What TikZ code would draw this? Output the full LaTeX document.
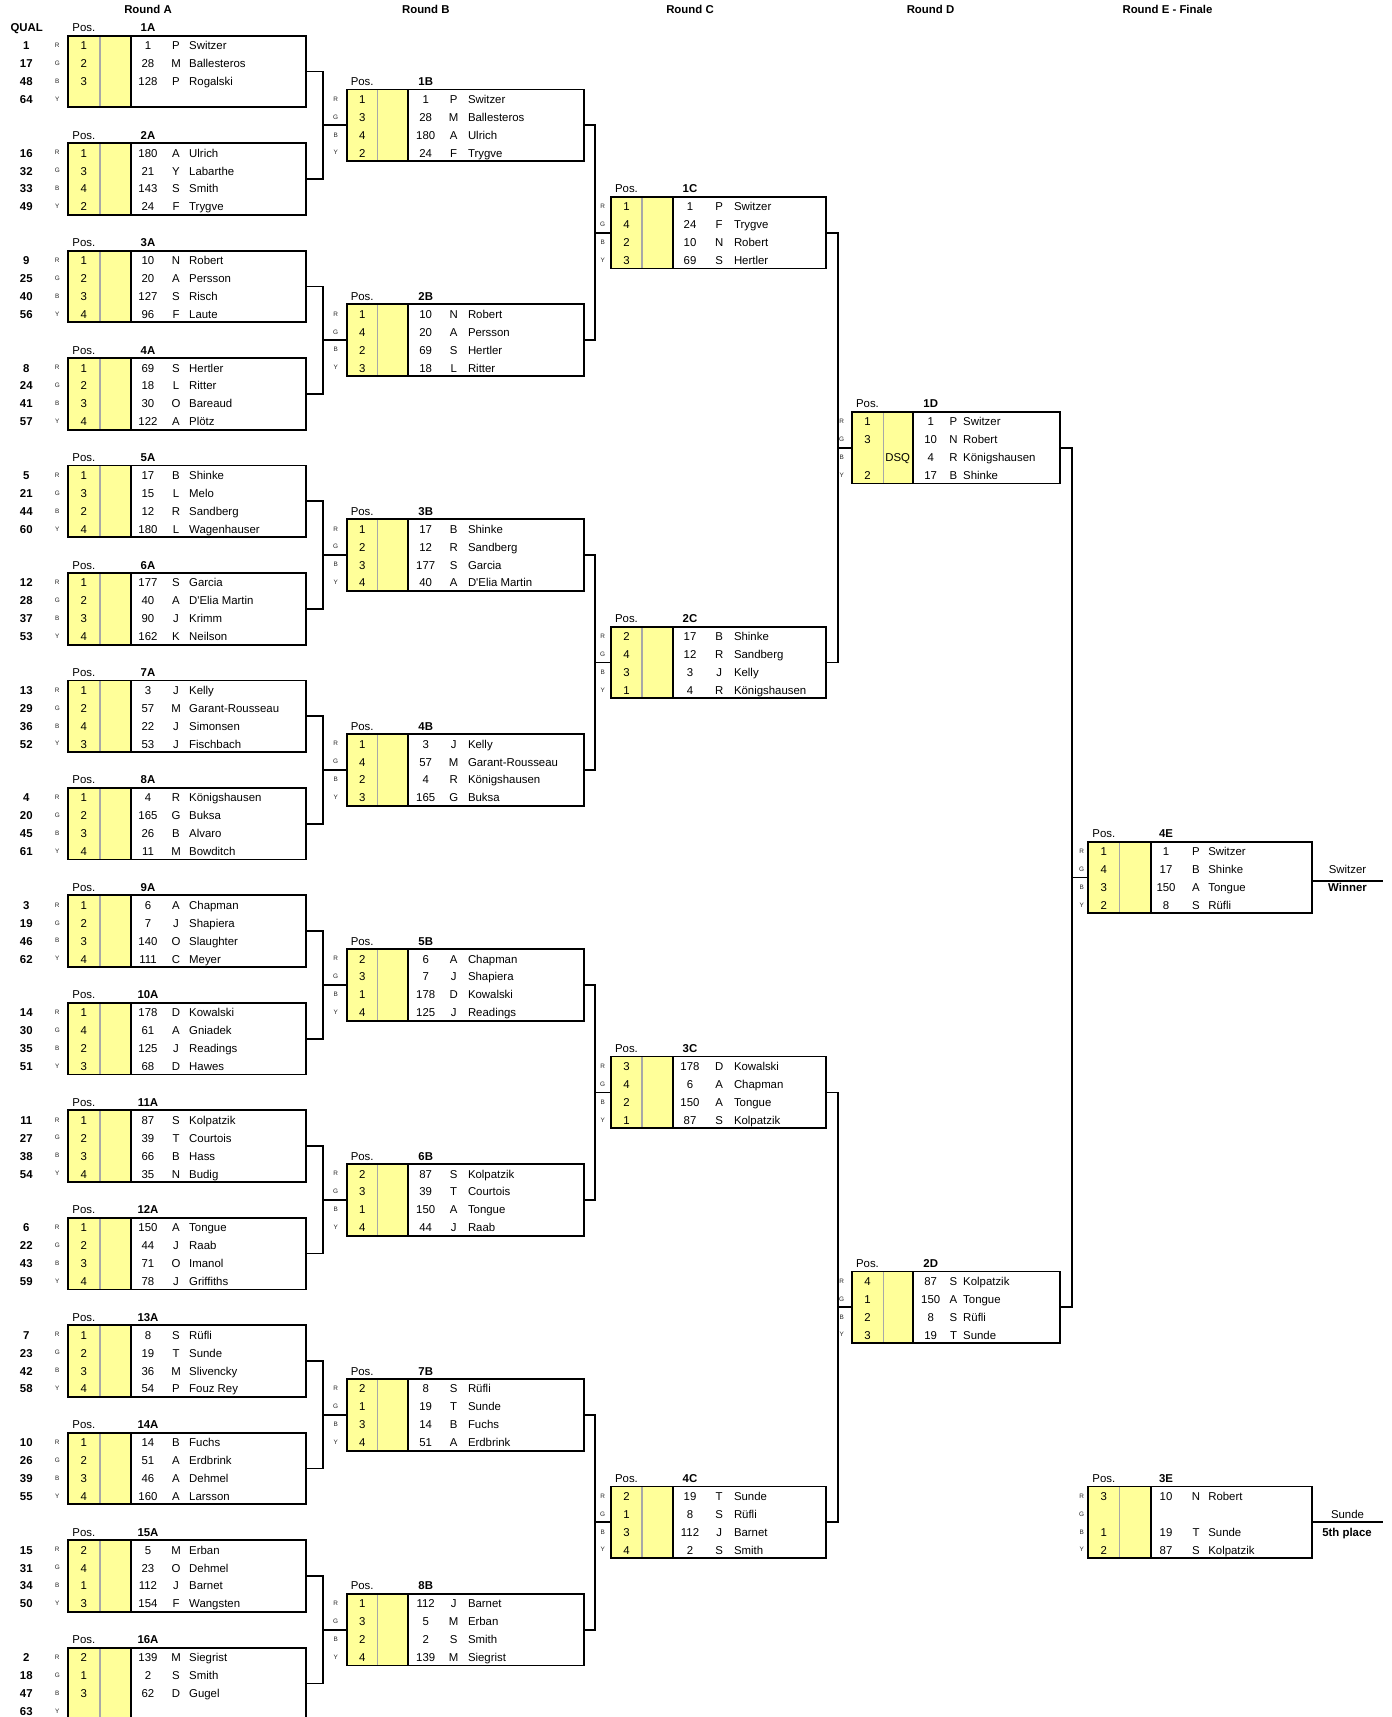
\documentclass[tikz,border=0pt]{standalone}
\usepackage{fontspec}
\setmainfont{Liberation Sans}
\usetikzlibrary{calc}
\definecolor{yel}{HTML}{FFFF99}
\definecolor{divgray}{HTML}{A8A8A8}
\tikzset{
  txt/.style={inner sep=0pt, outer sep=0pt, font=\fontsize{11.4}{13}\selectfont, anchor=base},
  boldtxt/.style={txt, font=\fontsize{11.4}{13}\selectfont\bfseries},
  rgbtxt/.style={inner sep=0pt, outer sep=0pt, font=\fontsize{6.4}{7}\selectfont, anchor=base, text=black!85},
  boxframe/.style={draw, line width=1.8pt, inner sep=0pt, outer sep=0pt, minimum height=71.64pt, anchor=north west},
  conn/.style={line width=1.8pt},
  gline/.style={draw=divgray, line width=1.3pt},
  dline/.style={draw=black, line width=1.8pt},
}
% column parameters: letters x, yellow left, gray line, divider, right, bib offset, initial offset, name offset
\newcommand\colparams[8]{\def\cLet{#1}\def\cL{#2}\def\cG{#3}\def\cD{#4}\def\cR{#5}\def\cBib{#6}\def\cIni{#7}\def\cNam{#8}}
% #1 label, #2 top row, #3 entries pos/bib/init/name
\newcommand\matchbox[3]{%
  \pgfmathsetmacro\yT{35.7+#2*17.91}%
  \pgfmathsetmacro\yB{\yT+71.64}%
  \pgfmathsetmacro\bw{\cR-\cL}%
  \fill[yel] (\cL,\yT) rectangle (\cD,\yB);
  \draw[gline] (\cG,\yT) -- (\cG,\yB);
  \draw[dline] (\cD,\yT) -- (\cD,\yB);
  \node[boxframe, minimum width=\bw pt] (b#1) at (\cL,\yT) {};
  \node[txt] (pos#1) at ({(\cL+\cG)/2},{\yT-8.955+5}) {Pos.};
  \node[boldtxt] (t#1) at ({\cD+\cBib},{\yT-8.955+5}) {#1};
  \foreach \ll [count=\k from 0] in {R,G,B,Y}{
    \node[rgbtxt] (l#1-\k) at (\cLet,{\yT+(\k+0.5)*17.91+2.8}) {\ll};
  }
  \foreach \pp/\bb/\ii/\nn [count=\k from 0] in {#3}{
    \node[txt] (p#1-\k) at ({(\cL+\cG)/2},{\yT+(\k+0.5)*17.91+5}) {\pp};
    \node[txt] (n#1-\k) at ({\cD+\cBib},{\yT+(\k+0.5)*17.91+5}) {\bb};
    \node[txt] (i#1-\k) at ({\cD+\cIni},{\yT+(\k+0.5)*17.91+5}) {\ii};
    \node[txt, anchor=base west] (s#1-\k) at ({\cD+\cNam},{\yT+(\k+0.5)*17.91+5}) {\nn};
  }
}
\newcommand\qual[2]{%
  \pgfmathsetmacro\yT{35.7+#1*17.91}%
  \foreach \qq [count=\k from 0] in {#2}{
    \node[boldtxt] (q#1-\k) at (26.3,{\yT+(\k+0.5)*17.91+5}) {\qq};
  }
}
% #1 top box, #2 bottom box, #3 next box, #4 join x
\newcommand\bracket[4]{%
  \coordinate (j#3) at (#4,0 |- b#3.west);
  \draw[conn] (b#1.east) -| (j#3) |- (b#2.east);
  \draw[conn] (j#3) -- (b#3.west);
}
\begin{document}
\begin{tikzpicture}[x=1pt,y=-1pt]
\path[use as bounding box] (0,0) rectangle (1392,1717);
\clip (0,0) rectangle (1392,1717);
\fill[white] (0,0) rectangle (1392,1717);

% round titles
\node[boldtxt] (rA) at (148,13.8) {Round A};
\node[boldtxt] (rB) at (425.8,13.8) {Round B};
\node[boldtxt] (rC) at (690,13.8) {Round C};
\node[boldtxt] (rD) at (930.5,13.8) {Round D};
\node[boldtxt] (rE) at (1167.5,13.8) {Round E - Finale};
\node[boldtxt] (qh) at (26.7,31.7) {QUAL};

% Round A
\colparams{57.3}{67.7}{100}{130.7}{306}{17.3}{45.3}{58.5}
\matchbox{1A}{0}{1/1/P/Switzer, 2/28/M/Ballesteros, 3/128/P/Rogalski, {}/{}/{}/{}}
\matchbox{2A}{6}{1/180/A/Ulrich, 3/21/Y/Labarthe, 4/143/S/Smith, 2/24/F/Trygve}
\matchbox{3A}{12}{1/10/N/Robert, 2/20/A/Persson, 3/127/S/Risch, 4/96/F/Laute}
\matchbox{4A}{18}{1/69/S/Hertler, 2/18/L/Ritter, 3/30/O/Bareaud, 4/122/A/Plötz}
\matchbox{5A}{24}{1/17/B/Shinke, 3/15/L/Melo, 2/12/R/Sandberg, 4/180/L/Wagenhauser}
\matchbox{6A}{30}{1/177/S/Garcia, 2/40/A/D\textquotesingle{}Elia Martin, 3/90/J/Krimm, 4/162/K/Neilson}
\matchbox{7A}{36}{1/3/J/Kelly, 2/57/M/Garant-Rousseau, 4/22/J/Simonsen, 3/53/J/Fischbach}
\matchbox{8A}{42}{1/4/R/Königshausen, 2/165/G/Buksa, 3/26/B/Alvaro, 4/11/M/Bowditch}
\matchbox{9A}{48}{1/6/A/Chapman, 2/7/J/Shapiera, 3/140/O/Slaughter, 4/111/C/Meyer}
\matchbox{10A}{54}{1/178/D/Kowalski, 4/61/A/Gniadek, 2/125/J/Readings, 3/68/D/Hawes}
\matchbox{11A}{60}{1/87/S/Kolpatzik, 2/39/T/Courtois, 3/66/B/Hass, 4/35/N/Budig}
\matchbox{12A}{66}{1/150/A/Tongue, 2/44/J/Raab, 3/71/O/Imanol, 4/78/J/Griffiths}
\matchbox{13A}{72}{1/8/S/Rüfli, 2/19/T/Sunde, 3/36/M/Slivencky, 4/54/P/Fouz Rey}
\matchbox{14A}{78}{1/14/B/Fuchs, 2/51/A/Erdbrink, 3/46/A/Dehmel, 4/160/A/Larsson}
\matchbox{15A}{84}{2/5/M/Erban, 4/23/O/Dehmel, 1/112/J/Barnet, 3/154/F/Wangsten}
\matchbox{16A}{90}{2/139/M/Siegrist, 1/2/S/Smith, 3/62/D/Gugel, {}/{}/{}/{}}

\qual{0}{1,17,48,64}
\qual{6}{16,32,33,49}
\qual{12}{9,25,40,56}
\qual{18}{8,24,41,57}
\qual{24}{5,21,44,60}
\qual{30}{12,28,37,53}
\qual{36}{13,29,36,52}
\qual{42}{4,20,45,61}
\qual{48}{3,19,46,62}
\qual{54}{14,30,35,51}
\qual{60}{11,27,38,54}
\qual{66}{6,22,43,59}
\qual{72}{7,23,42,58}
\qual{78}{10,26,39,55}
\qual{84}{15,31,34,50}
\qual{90}{2,18,47,63}

% Round B
\colparams{335.7}{346.7}{377.7}{407.7}{584}{18}{46}{60.3}
\matchbox{1B}{3}{1/1/P/Switzer, 3/28/M/Ballesteros, 4/180/A/Ulrich, 2/24/F/Trygve}
\matchbox{2B}{15}{1/10/N/Robert, 4/20/A/Persson, 2/69/S/Hertler, 3/18/L/Ritter}
\matchbox{3B}{27}{1/17/B/Shinke, 2/12/R/Sandberg, 3/177/S/Garcia, 4/40/A/D\textquotesingle{}Elia Martin}
\matchbox{4B}{39}{1/3/J/Kelly, 4/57/M/Garant-Rousseau, 2/4/R/Königshausen, 3/165/G/Buksa}
\matchbox{5B}{51}{2/6/A/Chapman, 3/7/J/Shapiera, 1/178/D/Kowalski, 4/125/J/Readings}
\matchbox{6B}{63}{2/87/S/Kolpatzik, 3/39/T/Courtois, 1/150/A/Tongue, 4/44/J/Raab}
\matchbox{7B}{75}{2/8/S/Rüfli, 1/19/T/Sunde, 3/14/B/Fuchs, 4/51/A/Erdbrink}
\matchbox{8B}{87}{1/112/J/Barnet, 3/5/M/Erban, 2/2/S/Smith, 4/139/M/Siegrist}

% Round C
\colparams{602.7}{611}{642}{672.7}{826}{17.3}{46.5}{61.3}
\matchbox{1C}{9}{1/1/P/Switzer, 4/24/F/Trygve, 2/10/N/Robert, 3/69/S/Hertler}
\matchbox{2C}{33}{2/17/B/Shinke, 4/12/R/Sandberg, 3/3/J/Kelly, 1/4/R/Königshausen}
\matchbox{3C}{57}{3/178/D/Kowalski, 4/6/A/Chapman, 2/150/A/Tongue, 1/87/S/Kolpatzik}
\matchbox{4C}{81}{2/19/T/Sunde, 1/8/S/Rüfli, 3/112/J/Barnet, 4/2/S/Smith}

% Round D
\colparams{841.7}{851.7}{883.3}{912.7}{1060}{18}{40.8}{50.5}
\matchbox{1D}{21}{1/1/P/Switzer, 3/10/N/Robert, {}/4/R/Königshausen, 2/17/B/Shinke}
\node[txt] (dsq) at (897.7,{35.7+23.5*17.91+5}) {DSQ};
\matchbox{2D}{69}{4/87/S/Kolpatzik, 1/150/A/Tongue, 2/8/S/Rüfli, 3/19/T/Sunde}

% Round E
\colparams{1081.7}{1088.3}{1119.3}{1151}{1311.7}{15}{45}{57.3}
\matchbox{4E}{45}{1/1/P/Switzer, 4/17/B/Shinke, 3/150/A/Tongue, 2/8/S/Rüfli}
\matchbox{3E}{81}{3/10/N/Robert, {}/{}/{}/{}, 1/19/T/Sunde, 2/87/S/Kolpatzik}

% brackets
\bracket{1A}{2A}{1B}{323.3}
\bracket{3A}{4A}{2B}{323.3}
\bracket{5A}{6A}{3B}{323.3}
\bracket{7A}{8A}{4B}{323.3}
\bracket{9A}{10A}{5B}{323.3}
\bracket{11A}{12A}{6B}{323.3}
\bracket{13A}{14A}{7B}{323.3}
\bracket{15A}{16A}{8B}{323.3}
\bracket{1B}{2B}{1C}{594.7}
\bracket{3B}{4B}{2C}{594.7}
\bracket{5B}{6B}{3C}{594.7}
\bracket{7B}{8B}{4C}{594.7}
\bracket{1C}{2C}{1D}{837.7}
\bracket{3C}{4C}{2D}{837.7}
\bracket{1D}{2D}{4E}{1071.7}

% results
\coordinate (winEnd) at (1383.3,881);
\draw[conn] (winEnd -| b4E.east) -- (winEnd);
\node[txt] (wname) at (1347.5,873.5) {Switzer};
\node[boldtxt] (wlabel) at (1347.5,891.4) {Winner};
\coordinate (fifthEnd) at (1383.3,1522.2);
\draw[conn] (fifthEnd -| b3E.east) -- (fifthEnd);
\node[txt] (fname) at (1347.5,1518.3) {Sunde};
\node[boldtxt] (flabel) at (1347,1536.2) {5th place};
\end{tikzpicture}
\end{document}
